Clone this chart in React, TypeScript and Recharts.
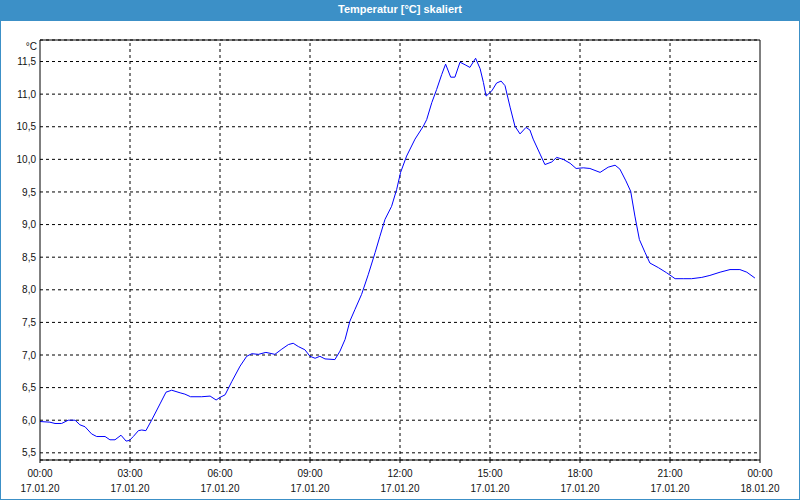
import React from "react"
import { LineChart, Line, XAxis, YAxis, CartesianGrid, ReferenceLine } from "recharts"

// hours since 17.01.20 00:00
const hours = [
  0, 0.33, 0.5, 0.72, 0.94, 1.17, 1.33, 1.5, 1.72, 1.89, 2.17, 2.33, 2.5, 2.7, 2.87, 2.98,
  3.11, 3.28, 3.39, 3.53, 3.72, 4.0, 4.2, 4.39, 4.67, 4.83, 5.02, 5.39, 5.67, 5.87, 6.0,
  6.17, 6.39, 6.67, 6.89, 7.06, 7.28, 7.53, 7.83, 8.06, 8.28, 8.44, 8.61, 8.83, 9.0,
  9.17, 9.33, 9.5, 9.83, 10.0, 10.17, 10.33, 10.5, 10.72, 10.94, 11.17, 11.33, 11.5,
  11.72, 11.89, 12.02, 12.22, 12.5, 12.78, 12.89, 13.06, 13.22, 13.39, 13.52, 13.69,
  13.83, 14.0, 14.17, 14.33, 14.52, 14.67, 14.78, 14.87, 15.06, 15.22, 15.37, 15.5,
  15.67, 15.83, 16.0, 16.2, 16.33, 16.44, 16.67, 16.83, 17.06, 17.22, 17.44, 17.67,
  17.87, 18.11, 18.33, 18.67, 18.94, 19.17, 19.33, 19.53, 19.69, 19.83, 19.98, 20.17,
  20.33, 20.61, 20.89, 21.17, 21.44, 21.72, 22.06, 22.33, 22.67, 23.0, 23.33, 23.56, 23.83,
]

const temps = [
  5.98, 5.97, 5.95, 5.95, 6.0, 6.0, 5.93, 5.9, 5.79, 5.75, 5.75, 5.7, 5.7, 5.77, 5.68, 5.69,
  5.75, 5.84, 5.85, 5.84, 6.0, 6.25, 6.43, 6.46, 6.42, 6.4, 6.36, 6.36, 6.37, 6.31, 6.35,
  6.39, 6.59, 6.83, 6.98, 7.02, 7.01, 7.04, 7.01, 7.09, 7.16, 7.18, 7.13, 7.08, 6.98,
  6.95, 6.98, 6.94, 6.93, 7.06, 7.24, 7.52, 7.7, 7.93, 8.23, 8.57, 8.82, 9.08,
  9.28, 9.54, 9.8, 10.05, 10.31, 10.51, 10.61, 10.87, 11.07, 11.3, 11.46, 11.26,
  11.26, 11.49, 11.45, 11.41, 11.55, 11.39, 11.18, 10.97, 11.05, 11.17, 11.2, 11.13,
  10.8, 10.51, 10.39, 10.49, 10.45, 10.31, 10.08, 9.92, 9.96, 10.03, 10.0, 9.94,
  9.86, 9.87, 9.86, 9.8, 9.88, 9.91, 9.85, 9.67, 9.51, 9.13, 8.77, 8.57,
  8.41, 8.34, 8.26, 8.17, 8.17, 8.17, 8.19, 8.22, 8.27, 8.31, 8.31, 8.27, 8.18,
]

const hourTicks = [0, 1, 2, 3, 4, 5, 6, 7, 8, 9, 10, 11, 12, 13, 14, 15, 16, 17, 18, 19, 20, 21, 22, 23, 24]
const labelHours = [0, 3, 6, 9, 12, 15, 18, 21, 24]
const timeLabels = ["00:00", "03:00", "06:00", "09:00", "12:00", "15:00", "18:00", "21:00", "00:00"]
const dateLabels = ["17.01.20", "17.01.20", "17.01.20", "17.01.20", "17.01.20", "17.01.20", "17.01.20", "17.01.20", "18.01.20"]
const tempTicks = [5.5, 6.0, 6.5, 7.0, 7.5, 8.0, 8.5, 9.0, 9.5, 10.0, 10.5, 11.0, 11.5]
const tempDomain = [5.39, 11.83]

const rows = hours.map((h, i) => ({ h, t: temps[i] }))

const font = "'Liberation Sans', Arial, sans-serif"
const blue = "#3c90c7"

function TimeTick(props: any) {
  const { x, y, payload } = props
  const idx = labelHours.indexOf(payload.value)
  if (idx < 0) return null
  return (
    <g>
      <text x={x} y={y} dy={12} textAnchor="middle" fontSize={10} fontFamily={font} fill="#111">
        {timeLabels[idx]}
      </text>
      <text x={x} y={y} dy={27} textAnchor="middle" fontSize={10} fontFamily={font} fill="#111">
        {dateLabels[idx]}
      </text>
    </g>
  )
}

export default function App() {
  return (
    <div style={{ position: "absolute", left: 0, top: 0, width: 800, height: 500, background: "#fff" }}>
      <LineChart width={800} height={500} data={rows} margin={{ top: 40, right: 40, bottom: 0, left: 0 }}>
        <CartesianGrid vertical={false} stroke="#000" strokeDasharray="3 3" />
        <XAxis
          dataKey="h"
          type="number"
          domain={[0, 24]}
          ticks={hourTicks}
          interval={0}
          height={40}
          tickSize={3}
          tickMargin={2}
          stroke="#000"
          tick={<TimeTick />}
        />
        <YAxis
          type="number"
          domain={tempDomain}
          allowDataOverflow
          ticks={tempTicks}
          interval={0}
          width={40}
          tickLine={false}
          tickSize={2}
          tickMargin={2}
          stroke="#000"
          tick={{ fontSize: 10, fontFamily: font, fill: "#111" }}
          tickFormatter={(v: number) => v.toFixed(1).replace(".", ",")}
          label={{ value: "°C", position: "insideTopRight", offset: 3, fontSize: 10, fontFamily: font, fill: "#111" }}
        />
        {labelHours.slice(1, -1).map((h) => (
          <ReferenceLine key={h} x={h} stroke="#000" strokeDasharray="3 3" />
        ))}
        {/* plot frame: top and right edges */}
        <ReferenceLine y={tempDomain[1]} stroke="#000" />
        <ReferenceLine x={24} stroke="#000" />
        <Line type="linear" dataKey="t" stroke="#0000ff" strokeWidth={1} dot={false} isAnimationActive={false} />
      </LineChart>
      <div
        style={{
          position: "absolute",
          left: 0,
          top: 0,
          width: 800,
          height: 21,
          background: blue,
          color: "#fff",
          fontFamily: font,
          fontWeight: "bold",
          fontSize: 11,
          lineHeight: "19px",
          textAlign: "center",
        }}
      >
        Temperatur [°C] skaliert
      </div>
      <div
        style={{
          position: "absolute",
          left: 0,
          top: 0,
          width: 800,
          height: 500,
          boxSizing: "border-box",
          border: `1px solid ${blue}`,
          pointerEvents: "none",
        }}
      />
    </div>
  )
}
